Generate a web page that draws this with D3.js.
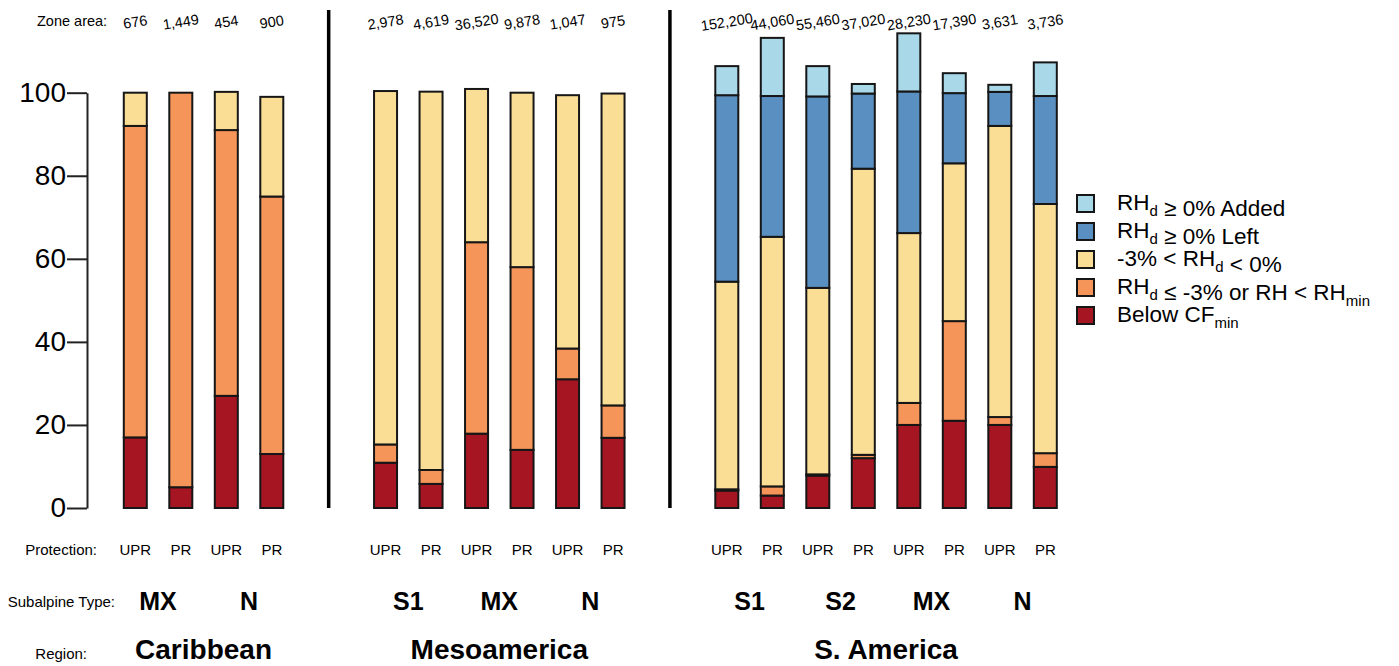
<!DOCTYPE html>
<html>
<head>
<meta charset="utf-8">
<script src="https://cdn.jsdelivr.net/npm/d3@7"></script>
<style>
  body { margin: 0; background: #fff; }
  svg { font-family: "Liberation Sans", Arial, sans-serif; }
</style>
</head>
<body>
<script>
// one entry per bar, left to right
const regions = ["Caribbean", "Mesoamerica", "S. America"];
const barRegion = [0,0,0,0, 1,1,1,1,1,1, 2,2,2,2,2,2,2,2];
const subalpine = ["MX","MX","N","N", "S1","S1","MX","MX","N","N", "S1","S1","S2","S2","MX","MX","N","N"];
const protection = ["UPR","PR","UPR","PR", "UPR","PR","UPR","PR","UPR","PR", "UPR","PR","UPR","PR","UPR","PR","UPR","PR"];
const zoneArea = ["676","1,449","454","900", "2,978","4,619","36,520","9,878","1,047","975",
                  "152,200","44,060","55,460","37,020","28,230","17,390","3,631","3,736"];

// percent of zone, stacked bottom -> top
const belowCF = [17, 5, 27, 13,   10.9, 5.8, 17.9, 14, 31, 16.9,   4.2, 3, 7.8, 12, 20, 21, 20, 9.9];
const rhLow   = [75, 95, 64, 62,  4.4, 3.35, 46.1, 44, 7.4, 7.8,   0.3, 2.2, 0.3, 0.8, 5.3, 24, 1.9, 3.3];
const rhMid   = [8, 0, 9.2, 24,   85.1, 91.1, 36.9, 42, 61, 75.1,  50, 60.1, 44.9, 68.9, 40.9, 38, 70.1, 60];
const rhLeft  = [0, 0, 0, 0,      0, 0, 0, 0, 0, 0,                44.9, 33.9, 46.1, 18.1, 34.1, 16.9, 8.2, 26];
const rhAdded = [0, 0, 0, 0,      0, 0, 0, 0, 0, 0,                7, 14, 7.3, 2.3, 14, 4.8, 1.7, 8.1];

const keys = ["below", "low", "mid", "left", "added"];
const colors = {below: "#a51622", low: "#f59559", mid: "#fbde96", left: "#5a8fc1", added: "#a9d8e8"};
const legendLabels = {
    added: [["RH"], ["d", 1], [" \u2265 0% Added"]],
    left:  [["RH"], ["d", 1], [" \u2265 0% Left"]],
    mid:   [["-3% < RH"], ["d", 1], [" < 0%"]],
    low:   [["RH"], ["d", 1], [" \u2264 -3% or RH < RH"], ["min", 1]],
    below: [["Below CF"], ["min", 1]]
};
const yTicks = [0, 20, 40, 60, 80, 100];

const width = 1399, height = 666;
const series = {below: belowCF, low: rhLow, mid: rhMid, left: rhLeft, added: rhAdded};
const data = zoneArea.map((a, i) => {
    const d = {i, region: barRegion[i], type: subalpine[i], prot: protection[i], area: a};
    keys.forEach(k => d[k] = series[k][i]);
    return d;
});

// slot position: bars are 1 apart, regions separated by a 2.5 slot step
let slot = 0;
data.forEach((d, i) => {
    if (i > 0) slot += (d.region !== data[i - 1].region) ? 2.5 : 1;
    d.slot = slot;
});

const x = d3.scaleLinear().domain([0, slot]).range([135.3, 1045.3]);
const y = d3.scaleLinear().domain([0, 100]).range([508, 92.7]);
const barW = 23;

const svg = d3.select("body").append("svg")
    .attr("width", width).attr("height", height);

const stack = d3.stack().keys(keys)(data);

svg.append("g")
    .selectAll("g")
    .data(stack)
    .join("g")
    .attr("fill", s => colors[s.key])
    .selectAll("rect")
    .data(s => s.filter(p => p[1] - p[0] > 0))
    .join("rect")
    .attr("x", p => x(p.data.slot) - barW / 2)
    .attr("width", barW)
    .attr("y", p => y(p[1]))
    .attr("height", p => y(p[0]) - y(p[1]))
    .attr("stroke", "#161616")
    .attr("stroke-width", 2);

// y axis
const yAxis = svg.append("g")
    .attr("transform", "translate(87,0)")
    .call(d3.axisLeft(y).tickValues(yTicks).tickSize(20).tickSizeOuter(0).tickPadding(1));
yAxis.select(".domain").attr("stroke", "#222").attr("stroke-width", 2);
yAxis.selectAll(".tick line").attr("stroke", "#222").attr("stroke-width", 2);
yAxis.selectAll(".tick text")
    .attr("font-size", 28)
    .attr("font-family", "'Liberation Sans', Arial, sans-serif")
    .attr("fill", "#000");

// region dividers
const groups = d3.groups(data, d => d.region);
for (let g = 1; g < groups.length; g++) {
    const prev = groups[g - 1][1], cur = groups[g][1];
    const mx = (x(prev[prev.length - 1].slot) + x(cur[0].slot)) / 2;
    svg.append("line")
        .attr("x1", mx).attr("x2", mx)
        .attr("y1", 10).attr("y2", 508)
        .attr("stroke", "#000").attr("stroke-width", 3.5);
}

// zone area row
svg.append("text").attr("x", 37).attr("y", 26)
    .attr("font-size", 14.5).text("Zone area:");
svg.append("g").selectAll("text")
    .data(data).join("text")
    .attr("text-anchor", "middle")
    .attr("font-size", 14.5)
    .attr("x", d => x(d.slot))
    .attr("y", 27)
    .attr("transform", d => `rotate(-9, ${x(d.slot)}, 22)`)
    .text(d => d.area);

// protection row
svg.append("text").attr("x", 97).attr("y", 555)
    .attr("text-anchor", "end").attr("font-size", 15).text("Protection:");
svg.append("g").selectAll("text")
    .data(data).join("text")
    .attr("text-anchor", "middle")
    .attr("font-size", 15)
    .attr("x", d => x(d.slot))
    .attr("y", 555)
    .text(d => d.prot);

// subalpine row
svg.append("text").attr("x", 115).attr("y", 607)
    .attr("text-anchor", "end").attr("font-size", 15).text("Subalpine Type:");
const typeGroups = d3.groups(data, d => d.region + "|" + d.type);
svg.append("g").selectAll("text")
    .data(typeGroups).join("text")
    .attr("text-anchor", "middle")
    .attr("font-size", 25).attr("font-weight", "bold")
    .attr("x", g => d3.mean(g[1], d => x(d.slot)))
    .attr("y", 610)
    .text(g => g[1][0].type);

// region row
svg.append("text").attr("x", 87).attr("y", 659)
    .attr("text-anchor", "end").attr("font-size", 15).text("Region:");
svg.append("g").selectAll("text")
    .data(groups).join("text")
    .attr("text-anchor", "middle")
    .attr("font-size", 28).attr("font-weight", "bold")
    .attr("x", g => d3.mean(g[1], d => x(d.slot)))
    .attr("y", 659)
    .text(g => regions[g[0]]);

// legend
const legend = svg.append("g").attr("transform", "translate(1077,193)");
const legendKeys = keys.slice().reverse();
const row = legend.selectAll("g")
    .data(legendKeys).join("g")
    .attr("transform", (k, i) => `translate(0,${i * 28})`);
row.append("rect")
    .attr("y", 2)
    .attr("width", 17).attr("height", 17)
    .attr("fill", k => colors[k])
    .attr("stroke", "#161616").attr("stroke-width", 2);
row.append("text")
    .attr("x", 40).attr("y", 17)
    .attr("font-size", 22.5)
    .each(function (k) {
        const t = d3.select(this);
        legendLabels[k].forEach(([s, sub]) => {
            t.append("tspan")
                .attr("font-size", sub ? 15 : 22.5)
                .attr("dy", sub ? 6 : 0)
                .text(s);
            if (sub) t.append("tspan").attr("dy", -6).text("");
        });
    });
</script>
</body>
</html>
